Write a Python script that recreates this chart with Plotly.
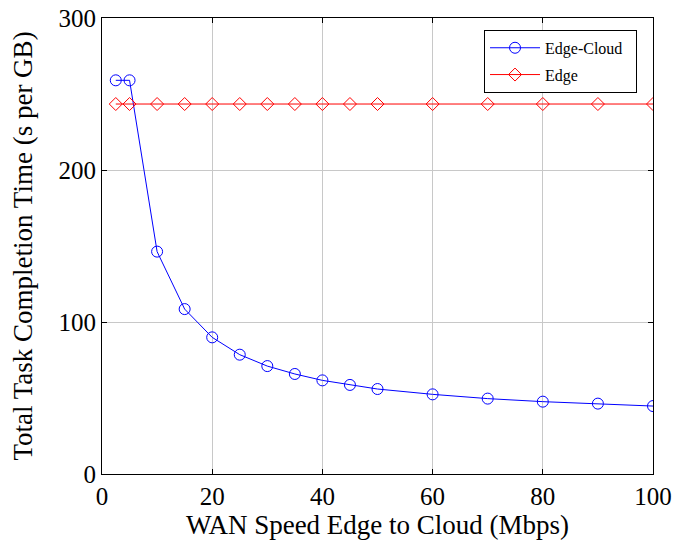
import plotly.graph_objects as go

wan_speed = [2.5, 5, 10, 15, 20, 25, 30, 35, 40, 45, 50, 60, 70, 80, 90, 100]
edge_cloud = [259, 259, 146.3, 108.5, 89.9, 78.5, 71.0, 65.8, 61.6, 58.6, 55.9, 52.4, 49.6, 47.6, 46.3, 44.7]
edge = [243.4] * len(wan_speed)

x_ticks = [0, 20, 40, 60, 80, 100]
y_ticks = [0, 100, 200, 300]

font = "Liberation Serif, Times New Roman, serif"

fig = go.Figure()
fig.add_trace(go.Scatter(
    x=wan_speed, y=edge_cloud, name="Edge-Cloud\u00a0\u00a0", mode="lines+markers", legendgroup="a",
    line=dict(color="#0000ff", width=1),
    marker=dict(symbol="circle-open", size=11, color="#0000ff", line=dict(width=1)),
))
fig.add_trace(go.Scatter(
    x=wan_speed, y=edge, name="Edge", mode="lines+markers", legendgroup="b",
    line=dict(color="#ff0000", width=1),
    marker=dict(symbol="diamond-open", size=10, color="#ff0000", line=dict(width=1)),
))

axis_common = dict(
    showline=True, linecolor="black", linewidth=1, mirror="ticks",
    ticks="inside", ticklen=5, tickcolor="black",
    showgrid=True, gridcolor="#c8c8c8", gridwidth=1, zeroline=False,
    tickfont=dict(family=font, size=25, color="black"),
    automargin=False, ticklabeloverflow="allow",
)

fig.update_layout(
    width=673, height=544,
    margin=dict(l=102, r=20, t=18, b=70),
    paper_bgcolor="white", plot_bgcolor="white",
    font=dict(family=font, color="black"),
    showlegend=True,
    legend=dict(
        x=0.971, y=0.974, xanchor="right", yanchor="top",
        bgcolor="white", bordercolor="black", borderwidth=1,
        font=dict(family=font, size=16, color="black"),
        tracegroupgap=3, itemwidth=50,
    ),
    xaxis=dict(range=[0, 100], tickvals=x_ticks,
               title=dict(text="WAN Speed Edge to Cloud (Mbps)", font=dict(family=font, size=27), standoff=6),
               **axis_common),
    yaxis=dict(range=[0, 300], tickvals=y_ticks,
               title=dict(text="Total Task Completion Time (s per GB)", font=dict(family=font, size=27), standoff=18),
               **axis_common),
)

fig.write_html("out.html", config={"displayModeBar": False},
               post_script="document.body.style.margin='0';")
